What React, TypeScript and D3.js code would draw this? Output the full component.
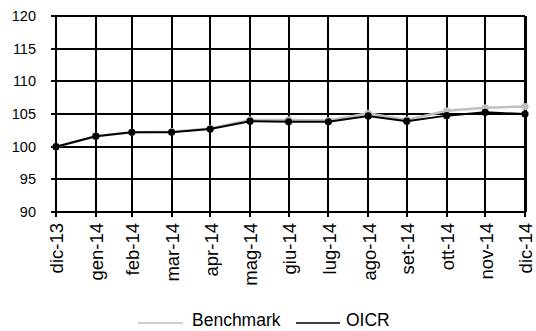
import React from "react";
import * as d3 from "d3";

const dates = ["2013-12-31","2014-01-31","2014-02-28","2014-03-31","2014-04-30","2014-05-31","2014-06-30","2014-07-31","2014-08-31","2014-09-30","2014-10-31","2014-11-30","2014-12-31"];
const labels = ["dic-13","gen-14","feb-14","mar-14","apr-14","mag-14","giu-14","lug-14","ago-14","set-14","ott-14","nov-14","dic-14"];
const benchmark = [100, 101.6, 102.2, 102.3, 102.8, 104.1, 104.1, 104.0, 105.1, 104.1, 105.5, 105.95, 106.15];
const oicr = [100, 101.6, 102.2, 102.2, 102.7, 103.9, 103.8, 103.8, 104.7, 103.9, 104.75, 105.25, 105.0];
const yTicks = [90, 95, 100, 105, 110, 115, 120];
const seriesNames = ["Benchmark", "OICR"];

const W = 536, H = 331;
const L = 56, R = 525, T = 16, B = 212;
const FONT = "'Liberation Sans', Arial, sans-serif";

export default function App() {
  const parse = d3.timeParse("%Y-%m-%d");
  const ds = dates.map((s) => parse(s) as Date);
  const x = d3.scaleTime().domain([ds[0], ds[ds.length - 1]]).range([L, R]);
  const y = d3.scaleLinear().domain([90, 120]).range([B, T]);
  const line = d3.line<number>().x((_, i) => x(ds[i])).y((v) => y(v));
  const rx = (d: Date) => Math.round(x(d));
  const ry = (v: number) => Math.round(y(v));

  return (
    <div style={{ position: "absolute", left: 0, top: 0 }}>
      <svg width={W} height={H} style={{ display: "block", background: "#fff" }} fontFamily={FONT}>
        <g shapeRendering="crispEdges">
          {yTicks.map((t) => (
            <line key={t} x1={L - 5} x2={R} y1={ry(t)} y2={ry(t)} stroke="#000" strokeWidth={2} />
          ))}
          {ds.map((d, i) => (
            <line key={i} x1={rx(d)} x2={rx(d)} y1={T} y2={B + 5} stroke="#000" strokeWidth={2} />
          ))}
          <line x1={R} x2={R} y1={T} y2={B} stroke="#000" strokeWidth={3} />
        </g>
        {yTicks.map((t) => (
          <text key={t} x={36} y={y(t)} dy="0.35em" textAnchor="end" fontSize={14.5} fill="#000">{t}</text>
        ))}
        {ds.map((d, i) => (
          <text key={i} transform={`translate(${x(d)},223) rotate(-90)`} dy="0.4em" textAnchor="end" fontSize={18.5} fill="#000">{labels[i]}</text>
        ))}
        <path d={line(benchmark) || ""} fill="none" stroke="#c0c0c0" strokeWidth={2.5} />
        {benchmark.map((v, i) => (
          <circle key={"b" + i} cx={x(ds[i])} cy={y(v)} r={3.6} fill="#c0c0c0" />
        ))}
        <path d={line(oicr) || ""} fill="none" stroke="#000" strokeWidth={2} />
        {oicr.map((v, i) => (
          <circle key={"o" + i} cx={x(ds[i])} cy={y(v)} r={3.6} fill="#000" />
        ))}
        <line x1={138} x2={183} y1={323} y2={323} stroke="#c0c0c0" strokeWidth={1.5} />
        <text x={192} y={326} fontSize={17.5} fill="#000">{seriesNames[0]}</text>
        <line x1={296} x2={340} y1={323} y2={323} stroke="#000" strokeWidth={1.5} />
        <text x={346} y={326} fontSize={17.5} fill="#000">{seriesNames[1]}</text>
      </svg>
    </div>
  );
}
